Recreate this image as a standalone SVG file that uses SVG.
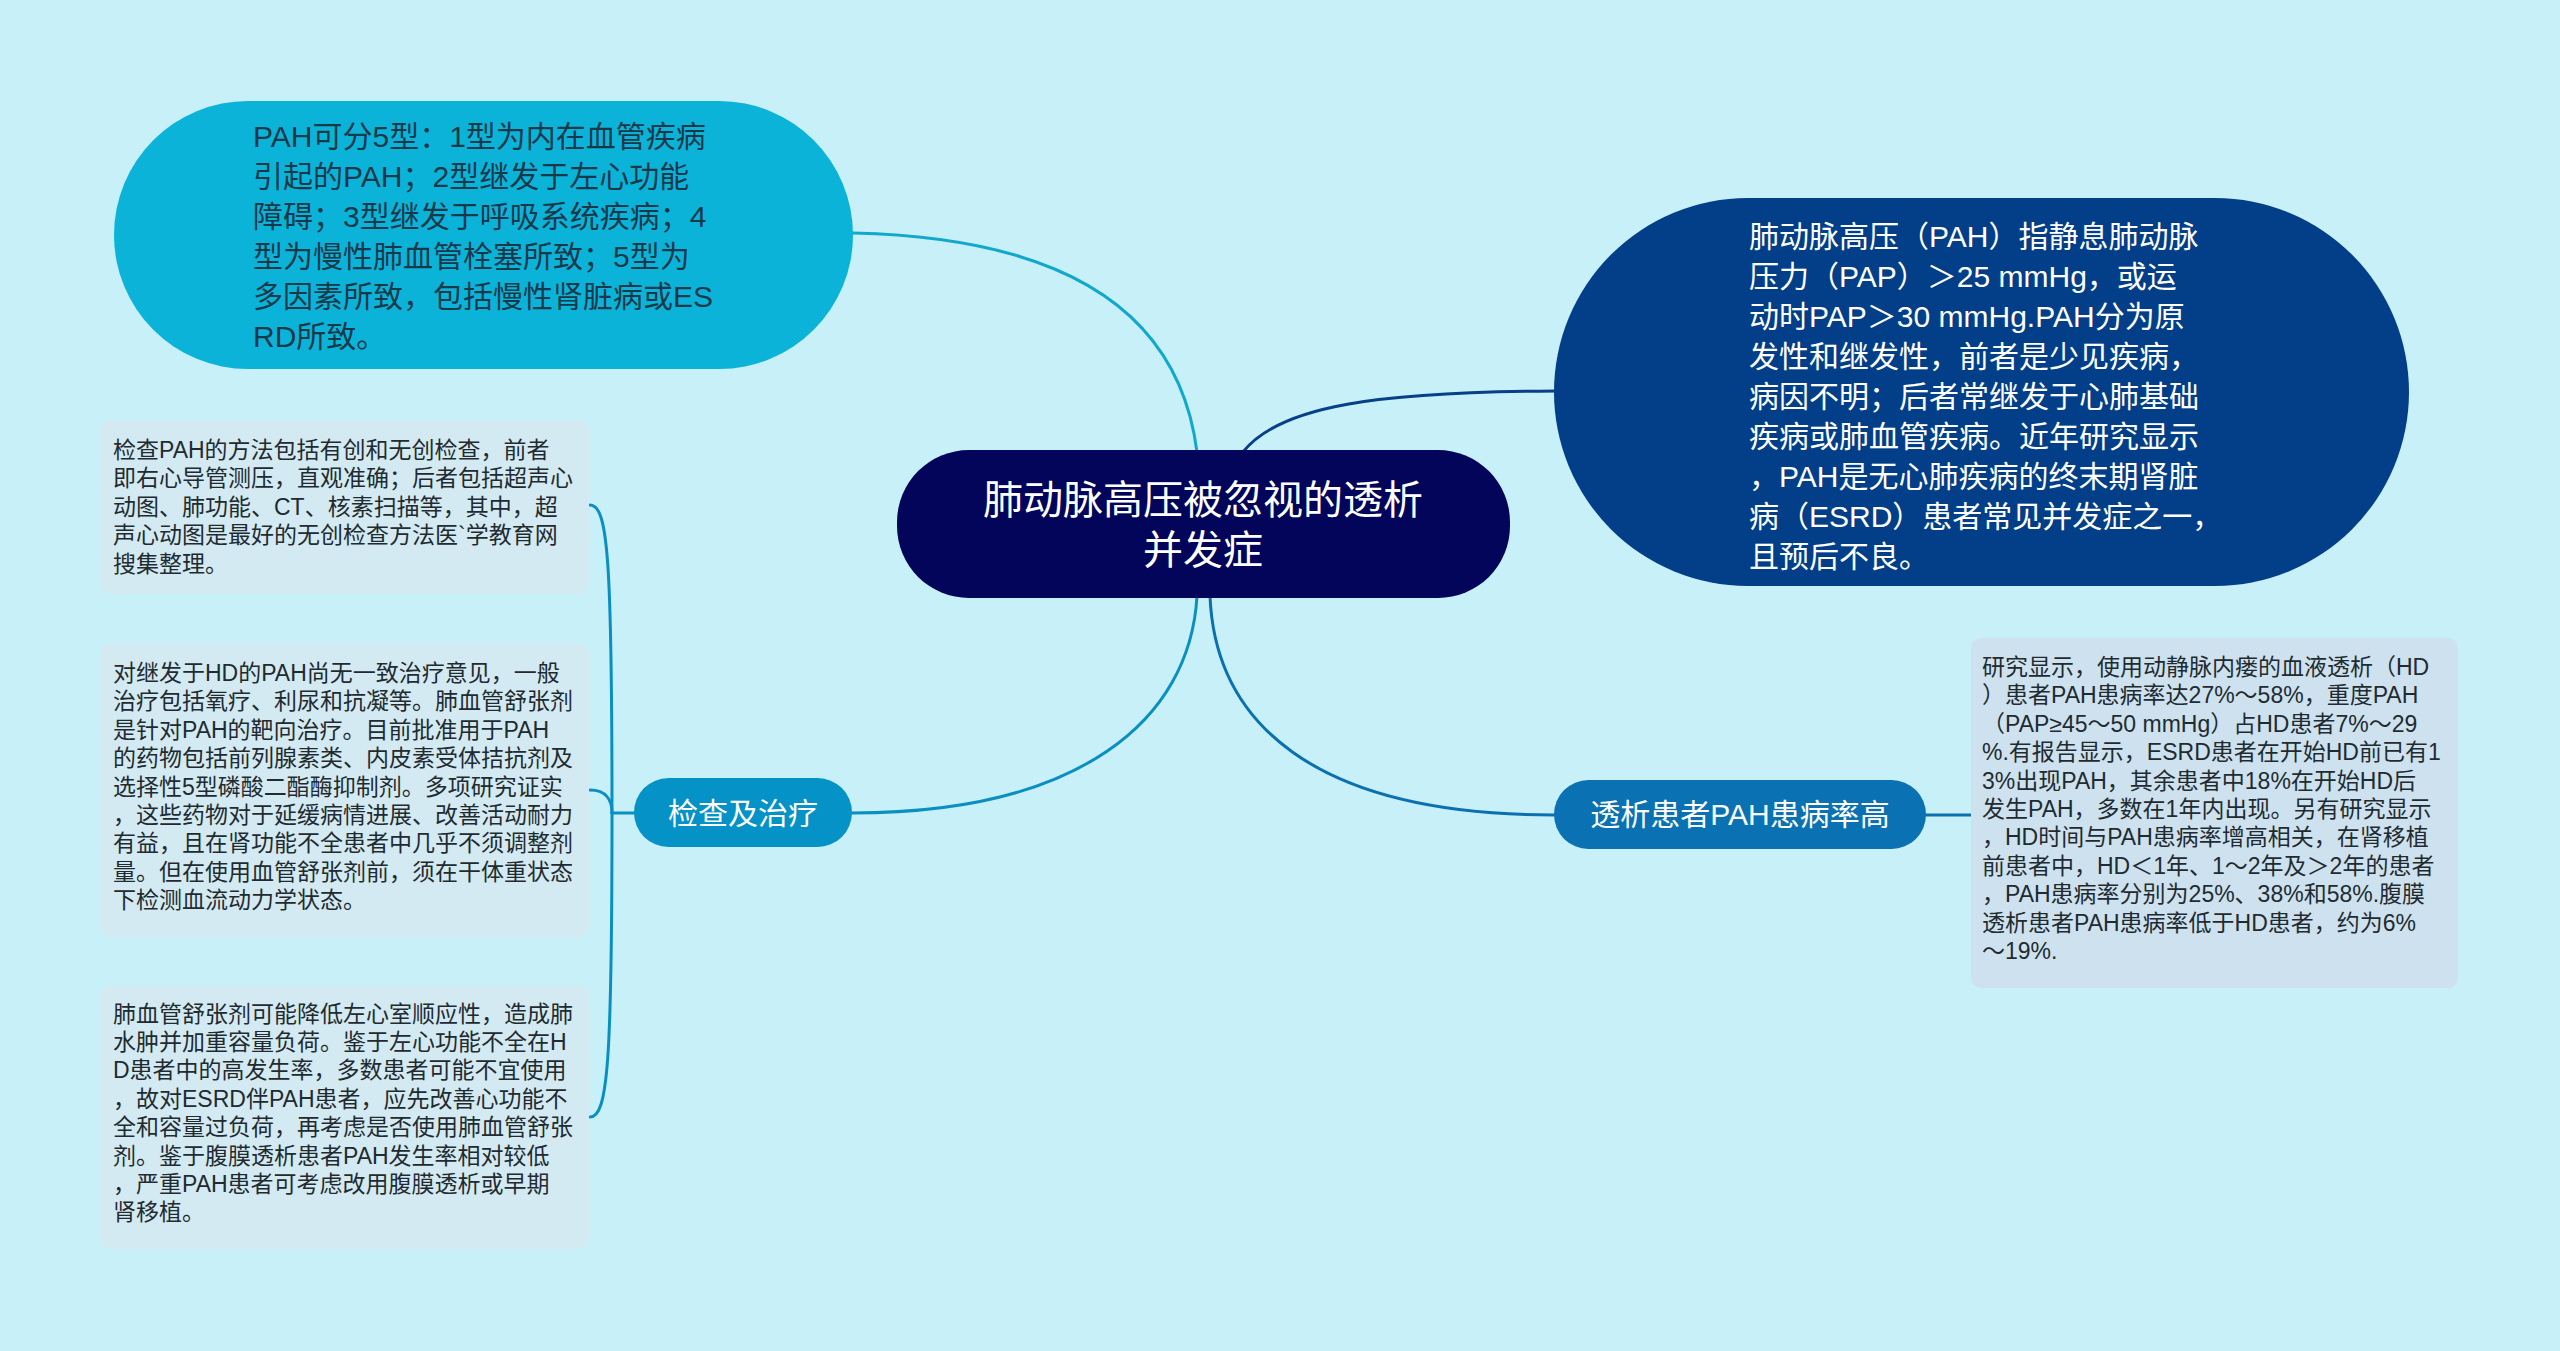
<svg xmlns="http://www.w3.org/2000/svg" width="2560" height="1351" viewBox="0 0 2560 1351">
<defs>
<style>
text{font-family:"Liberation Sans","Noto Sans CJK SC",sans-serif;}
.conn{fill:none;stroke-width:3;stroke-linecap:round;}
.leaf{fill:#d3eaf2;}
.leaftxt{font-size:23px;fill:#1f2b31;}
.big{font-size:30px;}
.white{fill:#ffffff;}
</style>
</defs>
<rect x="0" y="0" width="2560" height="1351" fill="#c8f0f8"/>

<g id="connectors">
<path class="conn" stroke="#12a8cc" d="M853,233 Q1170,240 1197,452"/>
<path class="conn" stroke="#073f88" d="M1243,452 C1280,405 1380,392 1556,391"/>
<path class="conn" stroke="#0a8fc2" d="M1197,596 C1190,720 1080,813 852,813"/>
<path class="conn" stroke="#0a70b0" d="M1210,596 C1215,720 1310,815 1554,815"/>
<path class="conn" stroke="#0a70b0" d="M1926,815 L1971,815"/>
<path class="conn" stroke="#0a8fc2" d="M634,813 L612,813"/>
<path class="conn" stroke="#0a8fc2" d="M612,813 C612,560 608,505 590,505"/>
<path class="conn" stroke="#0a8fc2" d="M612,813 C612,800 606,790 590,790"/>
<path class="conn" stroke="#0a8fc2" d="M612,813 C612,1060 608,1117 590,1117"/>
</g>

<g id="node-center">
<rect x="897" y="450" width="613" height="148" rx="72" ry="72" fill="#02055a"/>
<text class="white" font-size="40" text-anchor="middle"><tspan x="1203" y="514">肺动脉高压被忽视的透析</tspan><tspan x="1203" y="564">并发症</tspan></text>
</g>

<g id="node-types">
<rect x="114" y="101" width="739" height="268" rx="134" ry="134" fill="#0bb3d9"/>
<text class="big" fill="#17394a"><tspan x="253" y="147">PAH可分5型：1型为内在血管疾病</tspan><tspan x="253" y="187">引起的PAH；2型继发于左心功能</tspan><tspan x="253" y="227">障碍；3型继发于呼吸系统疾病；4</tspan><tspan x="253" y="267">型为慢性肺血管栓塞所致；5型为</tspan><tspan x="253" y="307">多因素所致，包括慢性肾脏病或ES</tspan><tspan x="253" y="347">RD所致。</tspan></text>
</g>

<g id="node-definition">
<rect x="1554" y="198" width="855" height="388" rx="194" ry="194" fill="#033f88"/>
<text class="big white"><tspan x="1749" y="247">肺动脉高压（PAH）指静息肺动脉</tspan><tspan x="1749" y="287">压力（PAP）＞25 mmHg，或运</tspan><tspan x="1749" y="327">动时PAP＞30 mmHg.PAH分为原</tspan><tspan x="1749" y="367">发性和继发性，前者是少见疾病，</tspan><tspan x="1749" y="407">病因不明；后者常继发于心肺基础</tspan><tspan x="1749" y="447">疾病或肺血管疾病。近年研究显示</tspan><tspan x="1749" y="487">，PAH是无心肺疾病的终末期肾脏</tspan><tspan x="1749" y="527">病（ESRD）患者常见并发症之一，</tspan><tspan x="1749" y="567">且预后不良。</tspan></text>
</g>

<g id="node-check">
<rect x="634" y="778" width="218" height="69" rx="34.5" ry="34.5" fill="#0592c6"/>
<text class="big white" text-anchor="middle" x="743" y="824">检查及治疗</text>
</g>

<g id="node-rate">
<rect x="1554" y="780" width="372" height="69" rx="34.5" ry="34.5" fill="#0a72b3"/>
<text class="big white" text-anchor="middle" x="1740" y="825">透析患者PAH患病率高</text>
</g>

<g id="leaf-check">
<rect class="leaf" x="100" y="420" width="489" height="174" rx="10" ry="10"/>
<text class="leaftxt"><tspan x="113" y="458">检查PAH的方法包括有创和无创检查，前者</tspan><tspan x="113" y="486.4">即右心导管测压，直观准确；后者包括超声心</tspan><tspan x="113" y="514.8">动图、肺功能、CT、核素扫描等，其中，超</tspan><tspan x="113" y="543.2">声心动图是最好的无创检查方法医`学教育网</tspan><tspan x="113" y="571.6">搜集整理。</tspan></text>
</g>

<g id="leaf-treatment">
<rect class="leaf" x="100" y="643" width="489" height="294" rx="10" ry="10"/>
<text class="leaftxt"><tspan x="113" y="681">对继发于HD的PAH尚无一致治疗意见，一般</tspan><tspan x="113" y="709.4">治疗包括氧疗、利尿和抗凝等。肺血管舒张剂</tspan><tspan x="113" y="737.8">是针对PAH的靶向治疗。目前批准用于PAH</tspan><tspan x="113" y="766.2">的药物包括前列腺素类、内皮素受体拮抗剂及</tspan><tspan x="113" y="794.6">选择性5型磷酸二酯酶抑制剂。多项研究证实</tspan><tspan x="113" y="823">，这些药物对于延缓病情进展、改善活动耐力</tspan><tspan x="113" y="851.4">有益，且在肾功能不全患者中几乎不须调整剂</tspan><tspan x="113" y="879.8">量。但在使用血管舒张剂前，须在干体重状态</tspan><tspan x="113" y="908.2">下检测血流动力学状态。</tspan></text>
</g>

<g id="leaf-caution">
<rect class="leaf" x="100" y="985" width="489" height="264" rx="10" ry="10"/>
<text class="leaftxt"><tspan x="113" y="1021.5">肺血管舒张剂可能降低左心室顺应性，造成肺</tspan><tspan x="113" y="1049.9">水肿并加重容量负荷。鉴于左心功能不全在H</tspan><tspan x="113" y="1078.3">D患者中的高发生率，多数患者可能不宜使用</tspan><tspan x="113" y="1106.7">，故对ESRD伴PAH患者，应先改善心功能不</tspan><tspan x="113" y="1135.1">全和容量过负荷，再考虑是否使用肺血管舒张</tspan><tspan x="113" y="1163.5">剂。鉴于腹膜透析患者PAH发生率相对较低</tspan><tspan x="113" y="1191.9">，严重PAH患者可考虑改用腹膜透析或早期</tspan><tspan x="113" y="1220.3">肾移植。</tspan></text>
</g>

<g id="leaf-rate">
<rect x="1971" y="638" width="487" height="350" rx="10" ry="10" fill="#cde2ee"/>
<text class="leaftxt"><tspan x="1982" y="675">研究显示，使用动静脉内瘘的血液透析（HD</tspan><tspan x="1982" y="703.4">）患者PAH患病率达27%～58%，重度PAH</tspan><tspan x="1982" y="731.8">（PAP≥45～50 mmHg）占HD患者7%～29</tspan><tspan x="1982" y="760.2">%.有报告显示，ESRD患者在开始HD前已有1</tspan><tspan x="1982" y="788.6">3%出现PAH，其余患者中18%在开始HD后</tspan><tspan x="1982" y="817">发生PAH，多数在1年内出现。另有研究显示</tspan><tspan x="1982" y="845.4">，HD时间与PAH患病率增高相关，在肾移植</tspan><tspan x="1982" y="873.8">前患者中，HD＜1年、1～2年及＞2年的患者</tspan><tspan x="1982" y="902.2">，PAH患病率分别为25%、38%和58%.腹膜</tspan><tspan x="1982" y="930.6">透析患者PAH患病率低于HD患者，约为6%</tspan><tspan x="1982" y="959">～19%.</tspan></text>
</g>
</svg>
